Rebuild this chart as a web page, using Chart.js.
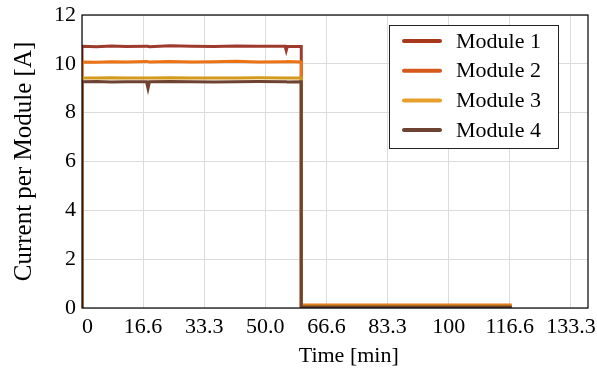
<!DOCTYPE html>
<html>
<head>
<meta charset="utf-8">
<script src="https://cdn.jsdelivr.net/npm/chart.js@4.4.1/dist/chart.umd.min.js"></script>
<style>
  html, body { margin: 0; padding: 0; background: #fff; }
  #wrap { width: 597px; height: 369px; }
</style>
</head>
<body>
<div id="wrap"><canvas id="chart" width="597" height="369"></canvas></div>
<script>
// time in minutes, shared by all modules
const time = [0, 0, 4, 8, 12, 17.6, 18, 18.4, 24, 30, 36, 42, 48, 55.4, 55.7, 56, 59.8, 59.8, 64, 72, 80, 88, 96, 104, 112, 117.2];
const module1 = [0, 10.72, 10.70, 10.73, 10.71, 10.72, 10.72, 10.70, 10.74, 10.72, 10.71, 10.73, 10.72, 10.72, 10.55, 10.72, 10.71, 0.04, 0.04, 0.04, 0.04, 0.04, 0.04, 0.04, 0.04, 0.04];
const module2 = [0, 10.07, 10.06, 10.09, 10.08, 10.10, 10.09, 10.08, 10.10, 10.08, 10.09, 10.11, 10.08, 10.09, 10.08, 10.10, 10.08, 0.12, 0.12, 0.12, 0.12, 0.12, 0.12, 0.12, 0.12, 0.12];
const module3 = [0, 9.42, 9.42, 9.43, 9.42, 9.42, 9.42, 9.42, 9.43, 9.42, 9.42, 9.42, 9.43, 9.42, 9.42, 9.42, 9.42, 0.07, 0.07, 0.07, 0.07, 0.07, 0.07, 0.07, 0.07, 0.07];
const module4 = [0, 9.27, 9.28, 9.26, 9.27, 9.27, 9.00, 9.27, 9.28, 9.27, 9.26, 9.27, 9.28, 9.27, 9.27, 9.26, 9.27, 0.04, 0.04, 0.04, 0.04, 0.04, 0.04, 0.04, 0.04, 0.04];

const labels = ["Module 1", "Module 2", "Module 3", "Module 4"];
const colors = ["#9e3a2c", "#ec7314", "#d39a1c", "#6e4230"];
const legendColors = ["#a8381c", "#d6581c", "#e8a02c", "#6e4232"];
const series = [module1, module2, module3, module4];

const xTicks = [0, 16.667, 33.333, 50, 66.667, 83.333, 100, 116.667, 133.333];
// first label sits just right of the axis, as in the original
const xTickLabels = ["  0", "16.6", "33.3", "50.0", "66.6", "83.3", "100", "116.6", "133.3"];
const yTicks = [0, 2, 4, 6, 8, 10, 12];

const serif = "'Liberation Serif', 'Times New Roman', serif";

const framePlugin = {
  id: "frame",
  afterDatasetsDraw(chart) {
    const { ctx, chartArea: a } = chart;
    ctx.save();
    ctx.strokeStyle = "#000";
    ctx.lineWidth = 1.2;
    ctx.strokeRect(a.left, a.top, a.right - a.left, a.bottom - a.top);
    ctx.restore();
  },
  afterDraw(chart) {
    // legend box in the upper right
    const ctx = chart.ctx;
    const box = { x: 389, y: 25, w: 169, h: 123 };
    ctx.save();
    ctx.fillStyle = "#fff";
    ctx.fillRect(box.x, box.y, box.w, box.h);
    ctx.strokeStyle = "#222";
    ctx.lineWidth = 1;
    ctx.strokeRect(box.x + 0.5, box.y + 0.5, box.w, box.h);
    ctx.font = "22px " + serif;
    ctx.textBaseline = "middle";
    ctx.lineCap = "round";
    chart.data.datasets.forEach((ds, i) => {
      const y = box.y + 16 + i * 29.7;
      ctx.strokeStyle = legendColors[i];
      ctx.lineWidth = 4;
      ctx.beginPath();
      ctx.moveTo(404, y);
      ctx.lineTo(440, y);
      ctx.stroke();
      ctx.fillStyle = "#000";
      ctx.fillText(ds.label, 456, y + 1);
    });
    ctx.restore();
  }
};

new Chart(document.getElementById("chart"), {
  type: "line",
  data: {
    datasets: labels.map((name, i) => ({
      label: name,
      data: time.map((t, k) => ({ x: t, y: series[i][k] })),
      borderColor: colors[i],
      backgroundColor: colors[i],
      borderWidth: 3,
      pointRadius: 0,
      tension: 0,
      fill: false,
      order: 4 - i
    }))
  },
  options: {
    responsive: false,
    animation: false,
    layout: { padding: { left: 9, right: 9, top: 15, bottom: 0 } },
    plugins: {
      legend: { display: false },
      tooltip: { enabled: false }
    },
    scales: {
      x: {
        type: "linear",
        min: 0,
        max: 138,
        afterBuildTicks: s => { s.ticks = xTicks.map(v => ({ value: v })); },
        afterFit: s => { s.height = 61; s.paddingLeft = 0; s.paddingRight = 0; },
        ticks: {
          color: "#000",
          font: { family: serif, size: 22 },
          padding: 6,
          maxRotation: 0,
          autoSkip: false,
          callback: (v, i) => xTickLabels[i]
        },
        grid: { color: "#dcdcdc", lineWidth: 1, drawTicks: false },
        border: { display: false },
        title: {
          display: true,
          text: "     Time [min]",
          color: "#000",
          font: { family: serif, size: 22 },
          padding: { top: 2, bottom: 0 }
        }
      },
      y: {
        min: 0,
        max: 12,
        afterBuildTicks: s => { s.ticks = yTicks.map(v => ({ value: v })); },
        afterFit: s => { s.width = 73; s.paddingTop = 0; s.paddingBottom = 0; },
        ticks: {
          color: "#000",
          font: { family: serif, size: 22 },
          padding: 6
        },
        grid: { color: "#dcdcdc", lineWidth: 1, drawTicks: false },
        border: { display: false },
        title: {
          display: true,
          text: "Current per Module [A]",
          color: "#000",
          font: { family: serif, size: 25 },
          padding: { top: 0, bottom: 2 }
        }
      }
    }
  },
  plugins: [framePlugin]
});
</script>
</body>
</html>
